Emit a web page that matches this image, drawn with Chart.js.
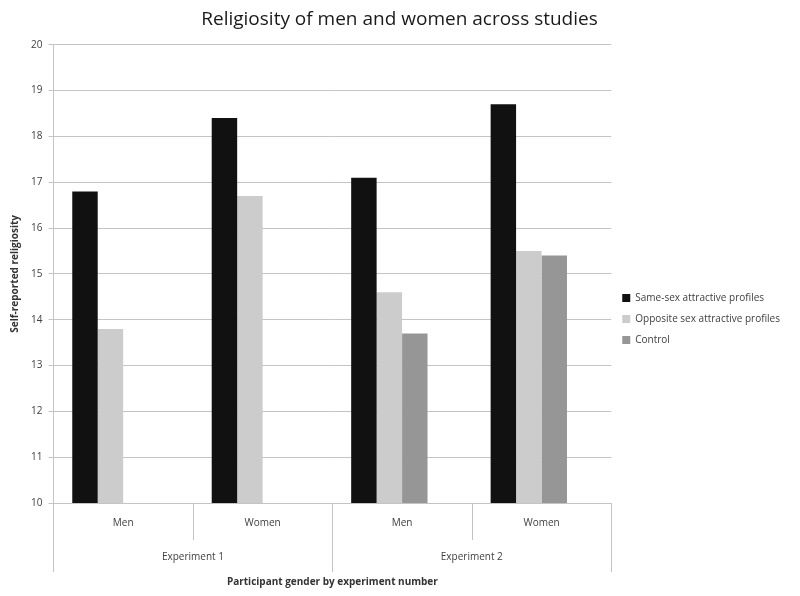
<!DOCTYPE html>
<html>
<head>
<meta charset="utf-8">
<script src="https://cdn.jsdelivr.net/npm/chart.js@4.4.1/dist/chart.umd.min.js"></script>
<style>
  html, body { margin: 0; padding: 0; background: #fff; }
  #wrap { width: 800px; height: 596px; position: relative; }
</style>
</head>
<body>
<div id="wrap"><canvas id="chart"></canvas></div>
<script>
"use strict";

// ── Data ─────────────────────────────────────────────────────────────────────

const GENDERS = ["Men", "Women", "Men", "Women"];
const EXPERIMENTS = ["Experiment 1", "Experiment 2"];

const SAME_SEX = [16.8, 18.4, 17.1, 18.7];
const OPPOSITE_SEX = [13.8, 16.7, 14.6, 15.5];
const CONTROL = [null, null, 13.7, 15.4];
const EMPTY_SLOT = [null, null, null, null]; // Excel left a fourth (blank) series slot

const Y_MIN = 10;
const Y_MAX = 20;

const FONT = "'Open Sans', 'Liberation Sans', sans-serif";
const TEXT = "#404040";
const GRID = "#c4c4c4";

// ── Two-level axis separators ────────────────────────────────────────────────

const separators = {
  id: "separators",
  afterDraw(chart) {
    const x = chart.scales.x;
    const area = chart.chartArea;
    const ctx = chart.ctx;
    const half = (x.getPixelForValue(1) - x.getPixelForValue(0)) / 2;
    ctx.save();
    ctx.strokeStyle = GRID;
    ctx.lineWidth = 1;
    for (let i = 0; i <= GENDERS.length; i++) {
      const px = Math.round(x.getPixelForValue(i) - half) + 0.5;
      const full = i % 2 === 0;
      ctx.beginPath();
      ctx.moveTo(px, area.bottom);
      ctx.lineTo(px, area.bottom + (full ? 69 : 37));
      ctx.stroke();
    }
    ctx.restore();
  },
};

// ── Chart ────────────────────────────────────────────────────────────────────

new Chart(document.getElementById("chart"), {
  type: "bar",
  data: {
    labels: GENDERS,
    datasets: [
      { label: "Same-sex attractive profiles", data: SAME_SEX, backgroundColor: "#111111" },
      { label: "Opposite sex attractive profiles", data: OPPOSITE_SEX, backgroundColor: "#cccccc" },
      { label: "Control", data: CONTROL, backgroundColor: "#969696" },
      { label: "", data: EMPTY_SLOT, backgroundColor: "rgba(0,0,0,0)" },
    ],
  },
  options: {
    responsive: true,
    maintainAspectRatio: false,
    animation: false,
    datasets: {
      bar: { categoryPercentage: 0.73, barPercentage: 1.0 },
    },
    layout: { padding: { top: 6, right: 10, bottom: 8, left: 9 } },
    plugins: {
      title: {
        display: true,
        text: "Religiosity of men and women across studies",
        font: { family: FONT, size: 19, weight: "normal" },
        color: "#1a1a1a",
        padding: { top: 2, bottom: 14 },
      },
      legend: {
        position: "right",
        title: {
          display: true,
          text: " ",
          font: { family: FONT, size: 10 },
          padding: { top: 0, bottom: 32 },
        },
        labels: {
          filter: item => item.text !== "",
          font: { family: FONT, size: 10 },
          color: TEXT,
          boxWidth: 8,
          boxHeight: 8,
          padding: 11,
        },
      },
      tooltip: { enabled: false },
    },
    scales: {
      x: {
        grid: { display: false },
        border: { display: false },
        ticks: { font: { family: FONT, size: 10 }, color: TEXT, padding: 6 },
      },
      x2: {
        type: "category",
        labels: EXPERIMENTS,
        position: "bottom",
        offset: true,
        grid: { display: false },
        border: { display: false },
        ticks: { font: { family: FONT, size: 10 }, color: TEXT, padding: 8 },
        title: {
          display: true,
          text: "Participant gender by experiment number",
          font: { family: FONT, size: 10, weight: "bold" },
          color: "#333",
          padding: { top: 5, bottom: 0 },
        },
      },
      y: {
        min: Y_MIN,
        max: Y_MAX,
        ticks: { stepSize: 1, font: { family: FONT, size: 10 }, color: TEXT, padding: 6 },
        grid: { color: GRID, tickLength: 5 },
        border: { color: GRID },
        title: {
          display: true,
          text: "Self-reported religiosity",
          font: { family: FONT, size: 10, weight: "bold" },
          color: "#333",
          padding: { top: 0, bottom: 4 },
        },
      },
    },
  },
  plugins: [separators],
});
</script>
</body>
</html>
